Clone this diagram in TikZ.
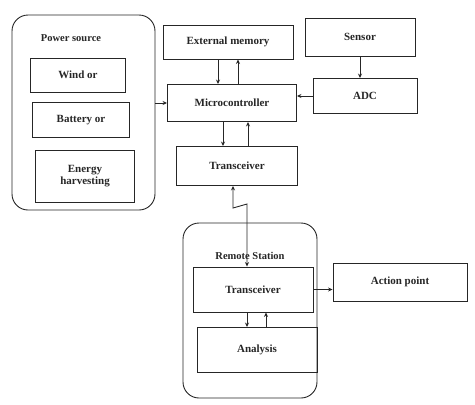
\documentclass[tikz,border=0pt]{standalone}
\usepackage{fontspec}
\setmainfont{Liberation Serif}
\usepackage{tikz}
\usepackage{xcolor}
\usetikzlibrary{positioning, arrows.meta, calc}
\definecolor{inkDark}{HTML}{262626}

\begin{document}
\begin{tikzpicture}[x=1pt, y=-1pt,
    box/.style={draw=inkDark, line width=0.9pt, align=center, inner sep=2pt,
                font=\fontsize{11}{12.5}\selectfont\bfseries, text=inkDark},
    group/.style={draw=inkDark, line width=0.9pt, rounded corners=16pt},
    lbl/.style={font=\fontsize{10.5}{12.5}\selectfont\bfseries, text=inkDark},
    arr/.style={-{Stealth[length=4.5pt, width=4pt]}, line width=0.9pt, draw=inkDark},
  ]
  \useasboundingbox (0,0) rectangle (475,405);

  % power source group
  \node[group, minimum width=143, minimum height=195] (pwr) at (83.5,112.5) {};
  \node[lbl] (pwrlbl) at (71,38) {Power source};
  \node[box, minimum width=95, minimum height=34] (wind) at (78,75) {Wind or};
  \node[box, minimum width=97, minimum height=35] (battery) at (81,120) {Battery or};
  \node[box, minimum width=99, minimum height=52] (energy) at (85,176) {Energy\\harvesting};

  % sensor node
  \node[box, minimum width=130, minimum height=34] (extmem) at (228,42) {External memory};
  \node[box, minimum width=110, minimum height=38] (sensor) at (360,37) {Sensor};
  \node[box, minimum width=129, minimum height=37] (micro) at (232,103) {Microcontroller};
  \node[box, minimum width=104, minimum height=35] (adc) at (365,96) {ADC};
  \node[box, minimum width=121, minimum height=39] (trx) at (237,166) {Transceiver};

  % remote station group
  \node[group, minimum width=134, minimum height=175] (remote) at (250,310.5) {};
  \node[lbl] (remotelbl) at (250,256) {Remote Station};
  \node[box, minimum width=120, minimum height=45] (rtrx) at (253,289.5) {Transceiver};
  \node[box, minimum width=120, minimum height=45] (analysis) at (257,350) {Analysis};
  \node[box, minimum width=134, minimum height=38] (action) at (400,282) {Action point};

  \draw[arr] (pwr.east |- micro.west) -- (micro.west);
  \draw[arr] ([xshift=-10pt]extmem.south) -- ([xshift=-10pt]extmem.south |- micro.north);
  \draw[arr] ([xshift=6pt]micro.north) -- ([xshift=6pt]micro.north |- extmem.south);
  \draw[arr] (sensor.south) -- (sensor.south |- adc.north);
  \draw[arr] (adc.west) -- (adc.west -| micro.east);
  \draw[arr] ([xshift=-9pt]micro.south) -- ([xshift=-9pt]micro.south |- trx.north);
  \draw[arr] ([xshift=11pt]trx.north) -- ([xshift=11pt]trx.north |- micro.south);

  % wireless link
  \coordinate (zz1) at (247,204);
  \coordinate (zz2) at (233,208);
  \draw[arr, {Stealth[length=4.5pt, width=4pt]}-{Stealth[length=4.5pt, width=4pt]}]
    ([xshift=-6pt]rtrx.north) -- (zz1) -- (zz2) -- (zz2 |- trx.south);

  \draw[arr] (rtrx.east) -- (rtrx.east -| action.west);
  \draw[arr] ([xshift=-6pt]rtrx.south) -- ([xshift=-6pt]rtrx.south |- analysis.north);
  \draw[arr] ([xshift=9pt]analysis.north) -- ([xshift=9pt]analysis.north |- rtrx.south);
\end{tikzpicture}
\end{document}
